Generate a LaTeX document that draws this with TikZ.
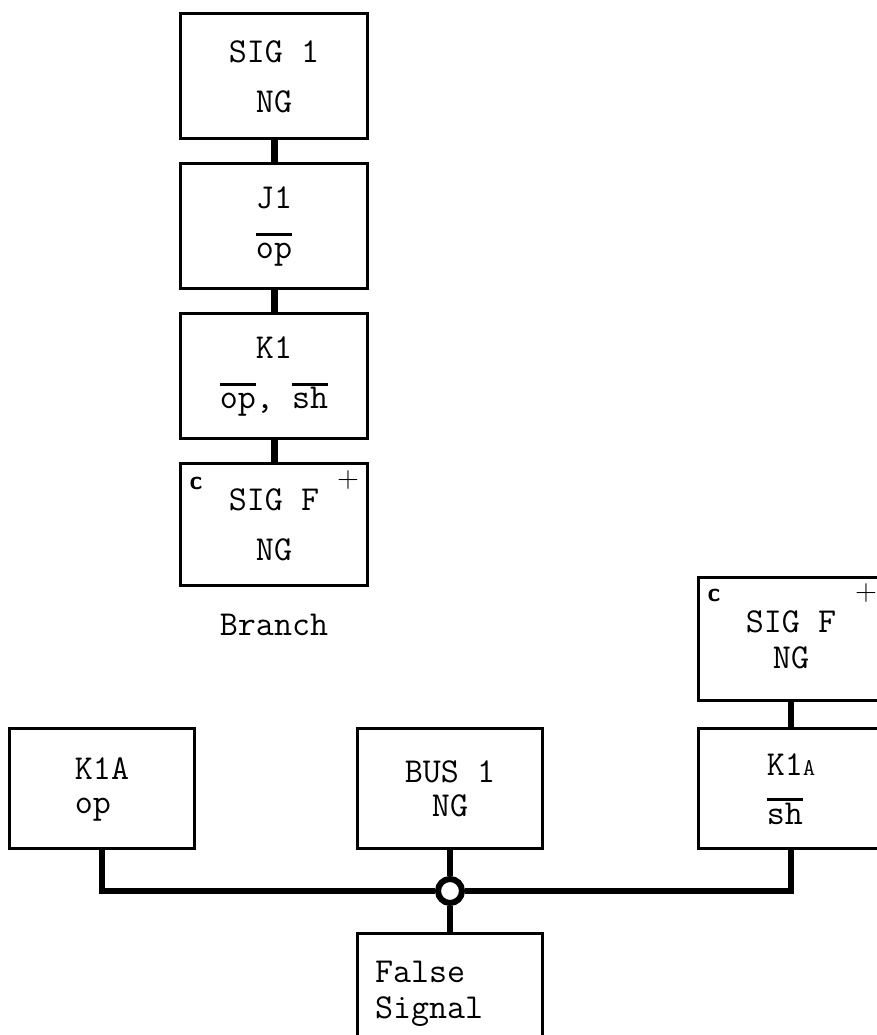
\documentclass[tikz,border=0pt]{standalone}
\usetikzlibrary{positioning}
% bar over a contact state (op, sh)
\newcommand{\nbar}[1]{\leavevmode\setbox0\hbox{#1}\rlap{\rule[23pt]{\wd0}{3pt}}\box0}
\newcommand{\smA}{{\fontsize{24}{24}\selectfont A}}

\begin{document}
\begin{tikzpicture}[x=1pt,y=1pt,node distance=22pt,
  every node/.append style={font=\ttfamily\fontsize{35}{50}\selectfont},
  blk/.style={draw, line width=3pt, minimum width=187pt, minimum height=125pt, align=center, inner sep=0pt},
  lowblk/.style={blk, minimum width=185pt, minimum height=120pt, font=\ttfamily\fontsize{35}{34}\selectfont},
  link/.style={line width=7pt},
  wire/.style={line width=6pt},
  ctag/.style={inner sep=0pt, font=\sffamily\bfseries\fontsize{26}{26}\selectfont},
  ptag/.style={inner sep=0pt, font=\sffamily\fontsize{30}{30}\selectfont}]
    \useasboundingbox (0,0) rectangle (876,1035);
    % branch column
    \node [blk] (Sig1) at (274,958.5) {SIG 1\\NG};
    \node [blk, below=of Sig1] (J1) {J1\\\nbar{op}};
    \node [blk, below=of J1] (K1) {K1\\\nbar{op}, \nbar{sh}};
    \node [blk, below=of K1, minimum height=122pt] (SigF) {SIG F\\NG};
    \node [ctag] at ([shift={(17pt,-21pt)}]SigF.north west) {c};
    \node [ptag] at ([shift={(-21pt,-18pt)}]SigF.north east) {+};
    \node [below=26pt of SigF, inner sep=0pt] (Brn) {Branch};
    \path (Sig1) edge [link] (J1);
    \path (J1) edge [link] (K1);
    \path (K1) edge [link] (SigF);
    % false signal tree
    \node [lowblk] (Bus1) at (450,246) {BUS 1\\NG};
    \node [lowblk, left=160pt of Bus1, align=left] (K1Aop) {K1A\\op};
    \node [lowblk, right=153pt of Bus1, align=left, font=\ttfamily\fontsize{35}{49}\selectfont] (K1Ash) {K1\smA\\\nbar{sh}};
    \node [lowblk, above=25pt of K1Ash, minimum height=123pt, font=\ttfamily\fontsize{35}{36}\selectfont] (SigFb) {SIG F\\NG};
    \node [ctag] at ([shift={(17pt,-19pt)}]SigFb.north west) {c};
    \node [ptag] at ([shift={(-19pt,-17pt)}]SigFb.north east) {+};
    \node [circle, draw, line width=6pt, minimum size=24pt, inner sep=0pt] (Jn) at (450,144) {};
    \node [lowblk, below=26pt of Jn, text width=150pt, align=left, font=\ttfamily\fontsize{35}{36}\selectfont] (FS) {False\\Signal};
    \path (SigFb) edge [wire] (K1Ash);
    \path (Bus1) edge [wire] (Jn);
    \path (Jn) edge [wire] (FS);
    \draw [wire] (K1Aop.south) |- (Jn.west);
    \draw [wire] (K1Ash.south) |- (Jn.east);
\end{tikzpicture}
\end{document}
